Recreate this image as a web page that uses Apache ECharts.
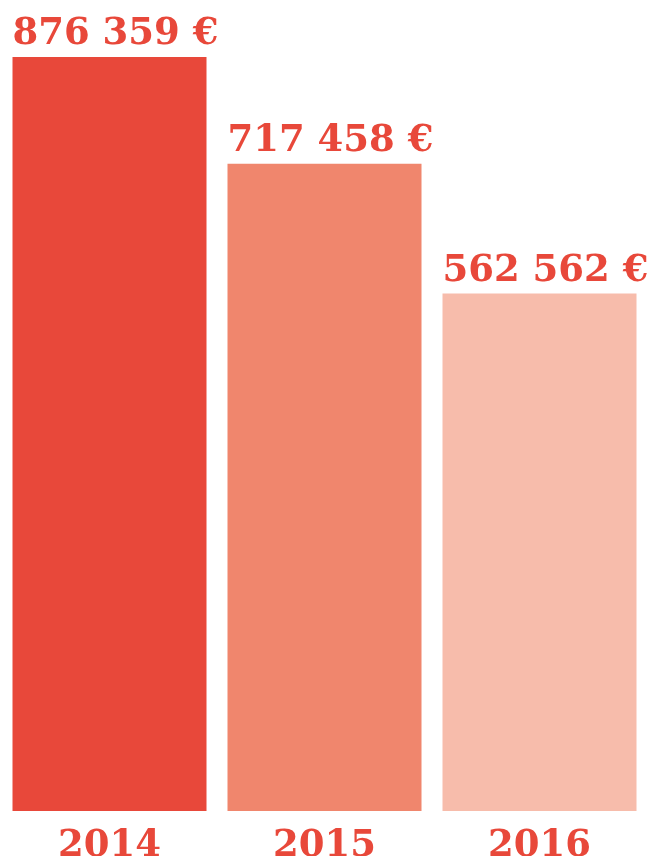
<!DOCTYPE html>
<html>
<head>
<meta charset="utf-8">
<script src="https://cdn.jsdelivr.net/npm/echarts@6/dist/echarts.min.js"></script>
<style>
    html, body { margin: 0; padding: 0; background: #fff; }
    #main { width: 659px; height: 856px; }
</style>
</head>
<body>
<div id="main"></div>
<script>
// 数据
var years = ['2014', '2015', '2016'];
var amounts = [876359, 717458, 562562];
var barColors = ['#e8483a', '#f0866d', '#f7bcab'];

// 金额格式: 876 359 €
function formatEuro(v) {
    return String(v).replace(/\B(?=(\d{3})+(?!\d))/g, ' ') + ' €';
}

var myChart = echarts.init(document.getElementById('main'));

var option = {
    animation: false,
    grid: {
        left: 2,
        right: 12,
        top: 57,
        bottom: 45,
        containLabel: false,
        outerBoundsMode: 'none'
    },
    xAxis: {
        type: 'category',
        data: years,
        axisLine: { show: false },
        axisTick: { show: false },
        axisLabel: {
            color: '#e8483a',
            fontFamily: 'DejaVu Serif',
            fontWeight: 'bold',
            fontSize: 37,
            margin: 17
        }
    },
    yAxis: {
        type: 'log',
        logBase: Math.E,
        min: 213200,
        max: 876359,
        show: false,
        splitLine: { show: false }
    },
    series: [
        {
            type: 'bar',
            barWidth: 194,
            clip: true,
            data: amounts.map(function (v, i) {
                return { value: v, itemStyle: { color: barColors[i] } };
            }),
            label: {
                show: true,
                position: [0, -4],
                align: 'left',
                verticalAlign: 'bottom',
                color: '#e8483a',
                fontFamily: 'DejaVu Serif',
                fontWeight: 'bold',
                fontSize: 37,
                formatter: function (p) { return formatEuro(p.value); }
            }
        }
    ]
};

myChart.setOption(option);
</script>
</body>
</html>
